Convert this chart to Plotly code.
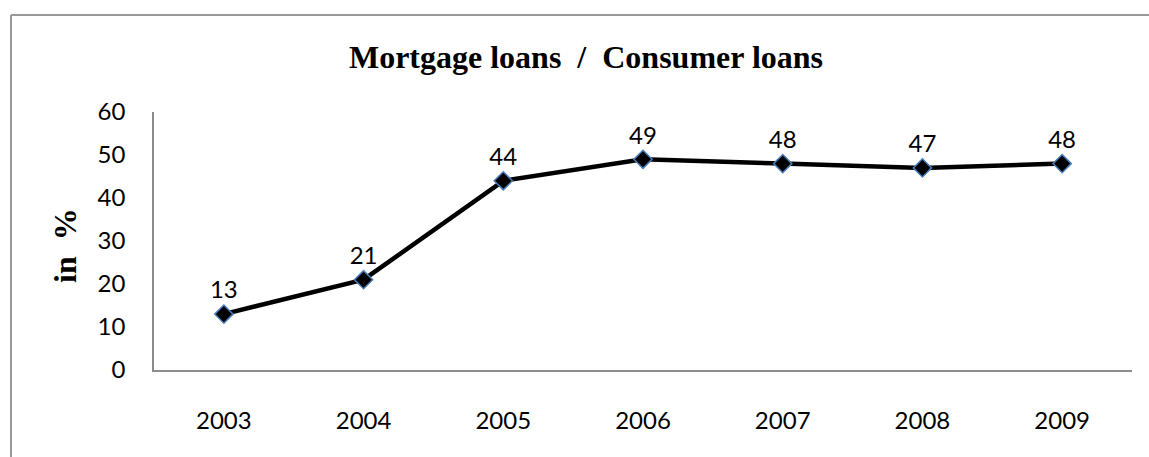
import plotly.graph_objects as go

years = ["2003", "2004", "2005", "2006", "2007", "2008", "2009"]
values = [13, 21, 44, 49, 48, 47, 48]
y_ticks = [0, 10, 20, 30, 40, 50, 60]

W, H = 1149, 457
L, R, T, B = 154, 17, 112, 87
pw, ph = W - L - R, H - T - B

def px_x(p):
    return (p - L) / pw

def px_y(p):
    return (H - B - p) / ph

fig = go.Figure()
fig.add_trace(go.Scatter(
    x=years, y=values, mode="lines+markers+text",
    text=[str(v) for v in values], textposition="top center",
    textfont=dict(family="Lato", size=24, color="#000000"),
    line=dict(color="#000000", width=4.5),
    marker=dict(symbol="diamond", size=14, color="#000000",
                line=dict(color="#4a7ebb", width=1.5)),
    cliponaxis=False, showlegend=False,
))

fig.update_layout(
    width=W, height=H,
    margin=dict(l=L, r=R, t=T, b=B),
    paper_bgcolor="white", plot_bgcolor="white",
    title=dict(text="<b>Mortgage loans  /  Consumer loans</b>",
               font=dict(family="Liberation Serif", size=32, color="#000000"),
               x=586 / W, xanchor="center", xref="container",
               y=1 - 57 / H, yanchor="middle", yref="container"),
    xaxis=dict(type="category", range=[-0.5, 6.5], showgrid=False,
               showline=True, linecolor="#8c8c8c", linewidth=1.5,
               ticks="", ticklabelstandoff=28,
               tickfont=dict(family="Lato", size=24, color="#000000")),
    yaxis=dict(range=[0, 60], tickvals=y_ticks, showgrid=False, zeroline=False,
               showline=True, linecolor="#8c8c8c", linewidth=1.5,
               ticks="", ticklabelstandoff=22,
               tickfont=dict(family="Lato", size=24, color="#000000")),
    annotations=[dict(text="<b>in  %</b>", textangle=-90,
                      xref="paper", yref="paper", x=px_x(65), y=px_y(246),
                      showarrow=False, xanchor="center", yanchor="middle",
                      font=dict(family="Liberation Serif", size=32, color="#000000"))],
    shapes=[
        dict(type="line", xref="paper", yref="paper",
             x0=px_x(11), y0=px_y(470), x1=px_x(11), y1=px_y(15),
             line=dict(color="#999999", width=2)),
        dict(type="line", xref="paper", yref="paper",
             x0=px_x(11), y0=px_y(15), x1=px_x(1160), y1=px_y(15),
             line=dict(color="#999999", width=2)),
    ],
)

fig.write_html("out.html")
